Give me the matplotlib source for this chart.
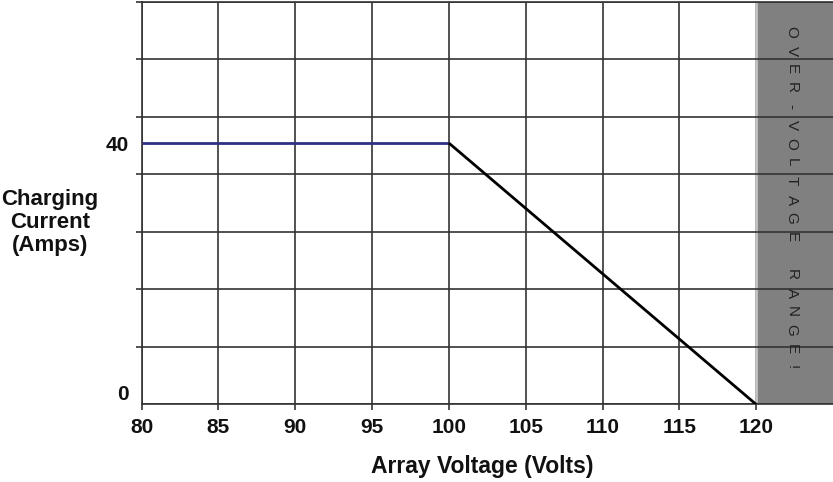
import numpy as np
import matplotlib
matplotlib.use("Agg")
import matplotlib.pyplot as plt

# charge curve (volts, amps)
voltage = [80, 100, 120]
current = [40, 40, 0]
x_ticks = [80, 85, 90, 95, 100, 105, 110, 115, 120]
y_ticks = [0, 40]
band_label = "OVER-VOLTAGE RANGE!"

plt.rcParams['font.family'] = ['Liberation Sans', 'DejaVu Sans']

fig = plt.figure(figsize=(8.33, 4.82), dpi=100)
ax = fig.add_axes([0.170, 0.161, 0.830, 0.835])

x_max = 125
y_max = 61.6
ax.set_xlim(80, x_max)
ax.set_ylim(0, y_max)

grid_col = '#333333'

# vertical grid
ax.set_xticks(x_ticks)
ax.set_axisbelow(True)
ax.grid(axis='x', color=grid_col, lw=1.2)

# over-voltage band
ax.axvspan(120, x_max, color='#808080', zorder=1, lw=0)
ax.axvline(120, color='#c4c4c4', lw=2, zorder=1.1)

# horizontal grid (7 divisions)
y_grid = np.linspace(0, y_max, 8)
for yy in y_grid:
    ax.axhline(yy, color=grid_col, lw=1.2, zorder=1.5)

ax.set_yticks(y_ticks)
ax.set_yticks(y_grid, minor=True)
ax.tick_params(axis='y', which='major', length=0, pad=9)
ax.tick_params(axis='y', which='minor', length=4, width=1.2, color=grid_col, direction='out')
ax.tick_params(axis='x', length=4, width=1.2, color=grid_col, direction='out', pad=6)

for lab in ax.get_xticklabels() + ax.get_yticklabels():
    lab.set_fontsize(15)
    lab.set_fontweight('heavy')
    lab.set_color('#111111')
ax.get_yticklabels()[0].set_va('bottom')

for s in ['left', 'bottom', 'top']:
    ax.spines[s].set_color(grid_col)
    ax.spines[s].set_linewidth(1.2)
ax.spines['right'].set_visible(False)

# data lines
ax.plot(voltage[:2], current[:2], color='#2e3082', lw=2, zorder=3, solid_capstyle='butt')
ax.plot(voltage[1:], current[1:], color='#000000', lw=2, zorder=3, solid_capstyle='butt')

# vertical letters in the band
n = len(band_label)
top_f, bot_f = 0.925, 0.092
for i, ch in enumerate(band_label):
    if ch == ' ':
        continue
    yf = top_f - (top_f - bot_f) * i / (n - 1)
    ax.text(122.3, yf, ch, transform=ax.get_xaxis_transform(), rotation=-90,
            ha='center', va='center', fontsize=11, color='#222222', zorder=4)

fig.text(0.060, 0.539, "Charging\nCurrent\n(Amps)", ha='center', va='center',
         fontsize=16, fontweight='bold', linespacing=1.12, color='#111111')
fig.text(0.579, 0.032, "Array Voltage (Volts)", ha='center', va='center',
         fontsize=16.5, fontweight='bold', color='#111111')

fig.savefig("out.png", dpi=100)
